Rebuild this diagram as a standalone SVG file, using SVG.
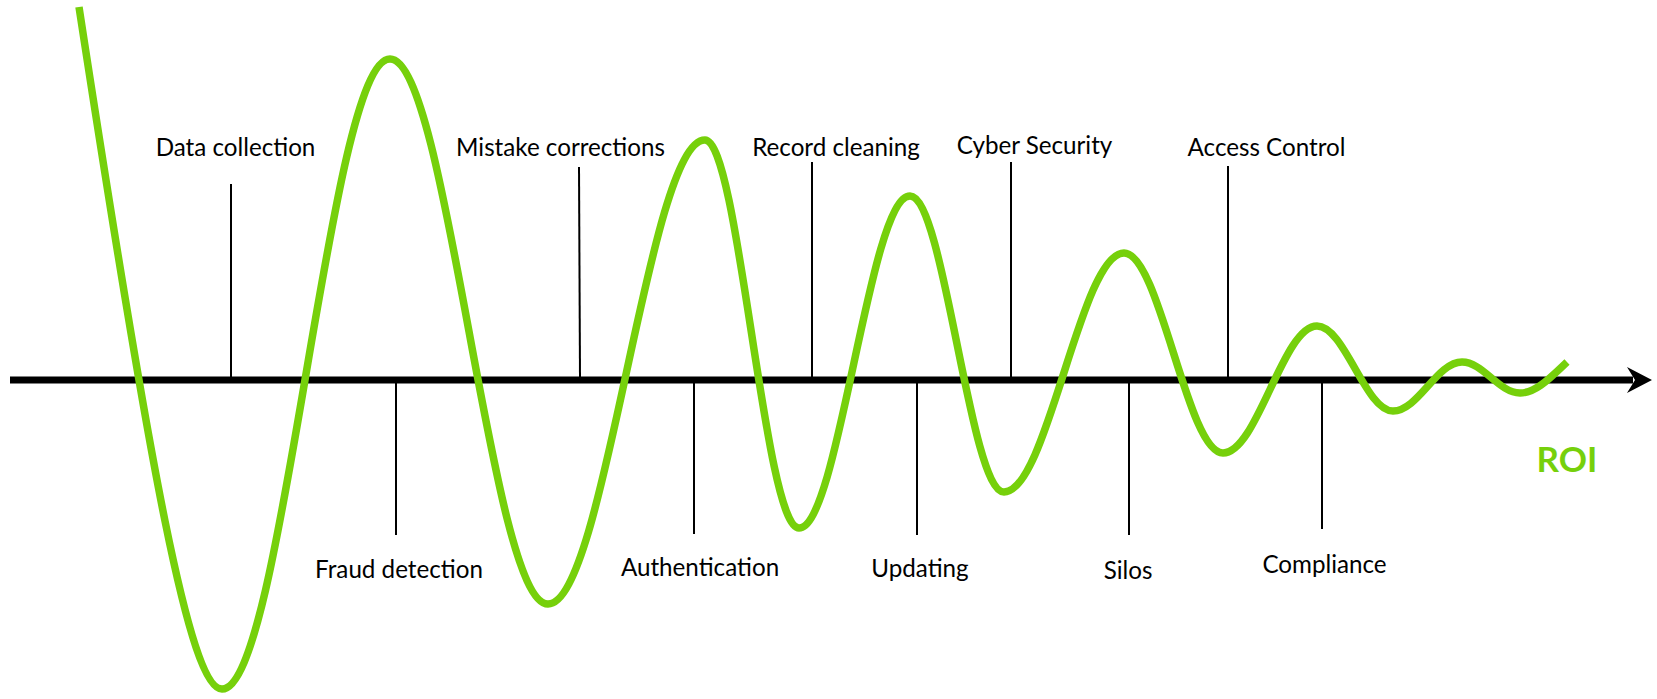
<svg xmlns="http://www.w3.org/2000/svg" width="1657" height="699" viewBox="0 0 1657 699">
  <style>
    .lbl { font-family: Lato, "Liberation Sans", sans-serif; font-size: 24.2px; fill: #000; text-anchor: middle; }
    .tick { stroke: #000; stroke-width: 2; fill: none; }
    .roi { font-family: Lato, "Liberation Sans", sans-serif; font-size: 35px; font-weight: bold; fill: #76D00B; text-anchor: middle; }
    .wave { fill: none; stroke: #76D00B; stroke-width: 7.5; stroke-linecap: butt; stroke-linejoin: round; }
  </style>
  <rect width="1657" height="699" fill="#fff"/>
  <g id="connectors">
    <line x1="10" y1="380" x2="1633" y2="380" stroke="#000" stroke-width="7"/>
    <polygon points="1652,380 1627,367 1635,380 1627,393" fill="#000"/>
  </g>
  <g id="roi-curve">
    <path class="wave" d="M79,7 C150,470 190,689 222,689 C283.05,689 328.95,59 390,59 C447.4,59 490.6,604 548,604 C605.05,604 647.95,140 705,140 C738.8,140 764.2,528 799,528 C838.7,528 869.3,196 910,196 C944.2,196 969.8,492 1004,492 C1047.6,492 1080.4,253 1124,253 C1160,253 1187,453 1223,453 C1257.2,453 1282.8,326 1317,326 C1344.6,326 1365.4,411 1393,411 C1418.1,411 1436.9,362 1462,362 C1483.1,362 1498.9,393 1520,393 C1536,393 1550,378 1567,362"/>
    <text class="roi" x="1567" y="472">ROI</text>
  </g>
  <g id="data-collection">
    <line class="tick" x1="231" y1="184" x2="231" y2="377"/>
    <text class="lbl" x="235.5" y="156">Data collection</text>
  </g>
  <g id="fraud-detection">
    <line class="tick" x1="396" y1="383" x2="396" y2="535"/>
    <text class="lbl" x="399" y="578">Fraud detection</text>
  </g>
  <g id="mistake-corrections">
    <line class="tick" x1="579" y1="167" x2="580" y2="377"/>
    <text class="lbl" x="560.5" y="156">Mistake corrections</text>
  </g>
  <g id="authentication">
    <line class="tick" x1="694" y1="383" x2="694" y2="534"/>
    <text class="lbl" x="700" y="576">Authentication</text>
  </g>
  <g id="record-cleaning">
    <line class="tick" x1="812" y1="162" x2="812" y2="377"/>
    <text class="lbl" x="836" y="156">Record cleaning</text>
  </g>
  <g id="updating">
    <line class="tick" x1="917" y1="383" x2="917" y2="535"/>
    <text class="lbl" x="920" y="577">Updating</text>
  </g>
  <g id="cyber-security">
    <line class="tick" x1="1011" y1="162" x2="1011" y2="377"/>
    <text class="lbl" x="1034.5" y="154">Cyber Security</text>
  </g>
  <g id="silos">
    <line class="tick" x1="1129" y1="383" x2="1129" y2="535"/>
    <text class="lbl" x="1128" y="579">Silos</text>
  </g>
  <g id="access-control">
    <line class="tick" x1="1228" y1="166" x2="1228" y2="377"/>
    <text class="lbl" x="1266.5" y="156">Access Control</text>
  </g>
  <g id="compliance">
    <line class="tick" x1="1322" y1="383" x2="1322" y2="529"/>
    <text class="lbl" x="1324.5" y="573">Compliance</text>
  </g>
</svg>
